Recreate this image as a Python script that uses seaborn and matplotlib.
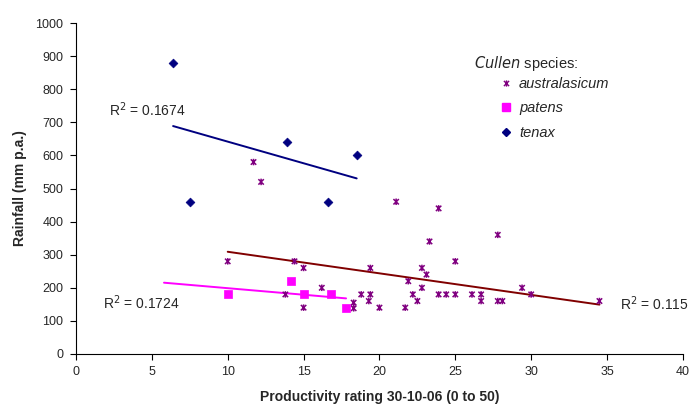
import numpy as np
import pandas as pd
import seaborn as sns
import matplotlib.pyplot as plt
from matplotlib.path import Path
from matplotlib.lines import Line2D

# data
aus_x = [10, 11.7, 12.2, 13.8, 14.4, 15, 15, 16.2, 18.3, 18.3, 18.8, 19.3, 19.4, 19.4,
         20, 21.1, 21.7, 21.9, 22.2, 22.5, 22.8, 22.8, 23.1, 23.3, 23.9, 23.9, 24.4,
         25, 25, 26.1, 26.7, 26.7, 27.8, 27.8, 28.1, 29.4, 30, 34.5]
aus_y = [280, 580, 520, 180, 280, 260, 140, 200, 155, 138, 180, 160, 180, 260,
         140, 460, 140, 220, 180, 160, 260, 200, 240, 340, 440, 180, 180,
         180, 280, 180, 180, 160, 360, 160, 160, 200, 180, 160]
pat_x = [10, 14.2, 15, 16.8, 17.8]
pat_y = [180, 220, 180, 180, 140]
ten_x = [6.4, 7.5, 13.9, 16.6, 18.5]
ten_y = [880, 460, 640, 460, 600]

species = ["australasicum", "patens", "tenax"]
r2_labels = ["R$^2$ = 0.115", "R$^2$ = 0.1724", "R$^2$ = 0.1674"]

df = pd.concat([
    pd.DataFrame({"x": aus_x, "y": aus_y, "species": "australasicum"}),
    pd.DataFrame({"x": pat_x, "y": pat_y, "species": "patens"}),
    pd.DataFrame({"x": ten_x, "y": ten_y, "species": "tenax"}),
])

colors = {"australasicum": "#800080", "patens": "#FF00FF", "tenax": "#000080"}
line_colors = {"australasicum": "#800000", "patens": "#FF00FF", "tenax": "#000080"}

# excel style asterisk: an x with a vertical bar
star = Path([(-1, -1), (1, 1), (-1, 1), (1, -1), (0, -1.2), (0, 1.2)],
            [Path.MOVETO, Path.LINETO] * 3)
markers = {"australasicum": star, "patens": "s", "tenax": "D"}
sizes = {"australasicum": 22, "patens": 28, "tenax": 20}

sns.set_style("ticks")
plt.rcParams["font.family"] = ["Liberation Sans", "DejaVu Sans"]

fig = plt.figure(figsize=(6.94, 4.05), dpi=100)
ax = fig.add_axes([0.1095, 0.126, 0.8745, 0.817])

for sp in species:
    sub = df[df["species"] == sp]
    if sp == "australasicum":
        sns.scatterplot(data=sub, x="x", y="y", marker=star, s=sizes[sp],
                        facecolor="none", edgecolor=colors[sp], linewidth=1.1,
                        ax=ax, zorder=3)
    else:
        sns.scatterplot(data=sub, x="x", y="y", marker=markers[sp], s=sizes[sp],
                        color=colors[sp], edgecolor=colors[sp], linewidth=0.5,
                        ax=ax, zorder=3)

# trendlines
for sp in ["australasicum", "tenax"]:
    sub = df[df["species"] == sp]
    sns.regplot(data=sub, x="x", y="y", scatter=False, ci=None, truncate=True,
                line_kws={"color": line_colors[sp], "lw": 1.4}, ax=ax)

# patens trend is extended backward like the excel forecast option
patens_backcast = 4.2
slope, icpt = np.polyfit(pat_x, pat_y, 1)
xx = np.array([min(pat_x) - patens_backcast, max(pat_x)])
ax.plot(xx, slope * xx + icpt, color=line_colors["patens"], lw=1.4)

ax.text(35.85, 151, r2_labels[0], fontsize=10, va="center")
ax.text(1.78, 154, r2_labels[1], fontsize=10, va="center")
ax.text(2.17, 738, r2_labels[2], fontsize=10, va="center")

ax.set_xlim(0, 40)
ax.set_ylim(0, 1000)
ax.set_xticks(range(0, 41, 5))
ax.set_yticks(range(0, 1001, 100))
ax.tick_params(labelsize=9, length=4, width=0.8, color="black", pad=5)
for s in ["left", "bottom"]:
    ax.spines[s].set_linewidth(0.8)
    ax.spines[s].set_color("black")
sns.despine(ax=ax)

ax.set_xlabel("Productivity rating 30-10-06 (0 to 50)", fontsize=10,
              fontweight="bold", labelpad=8)
ax.set_ylabel("Rainfall (mm p.a.)", fontsize=10, fontweight="bold", labelpad=6)

# legend
ax.text(26.2, 877, r"$\it{Cullen}$ species:", fontsize=10.5, va="center")
handles = [
    Line2D([], [], ls="none", marker=star, ms=4.5, mew=1.0,
           mfc="none", mec=colors["australasicum"]),
    Line2D([], [], ls="none", marker="s", ms=5.5, color=colors["patens"]),
    Line2D([], [], ls="none", marker="D", ms=4.5, color=colors["tenax"]),
]
ax.legend(handles, species, loc="upper left", bbox_to_anchor=(0.677, 0.876),
          frameon=False, prop={"style": "italic", "size": 10.5},
          handlelength=0.8, handletextpad=0.5, labelspacing=0.7)

fig.savefig("out.png", dpi=100)
